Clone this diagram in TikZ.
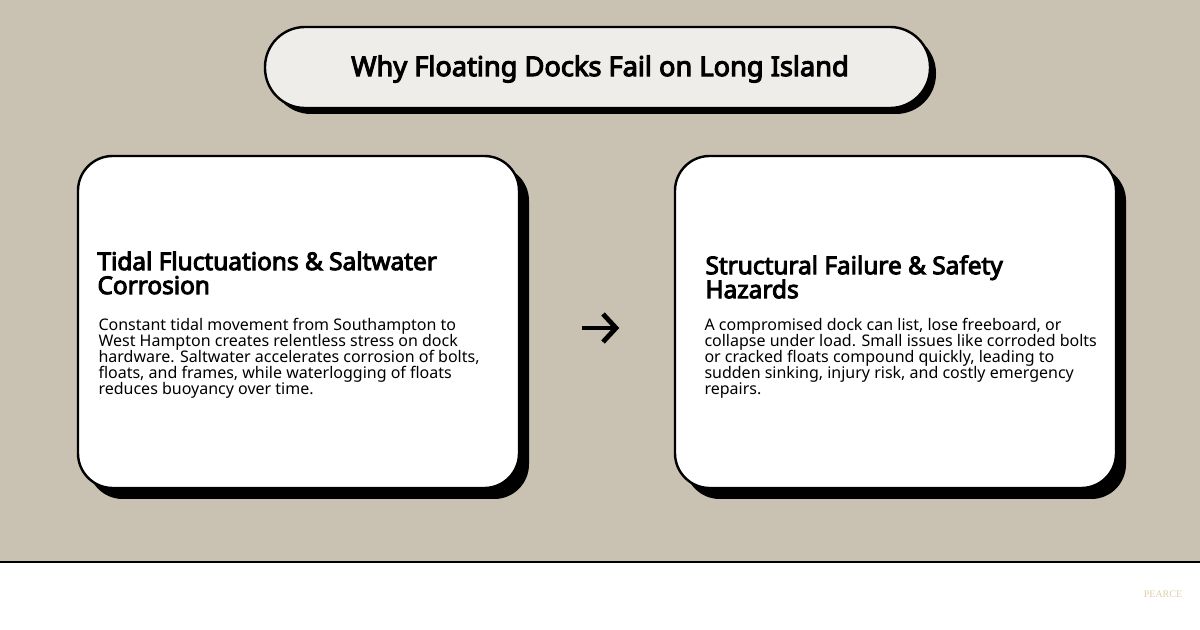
\documentclass[tikz,border=0pt]{standalone}
\usepackage{fontspec}
\setmainfont{Noto Sans}[BoldFont={Noto Sans}, BoldFeatures={FakeBold=4}]
\newfontfamily\markfont{Liberation Serif}
\newcommand\tightlines{\setlength{\lineskiplimit}{-20pt}}
\definecolor{sand}{RGB}{201,194,178}
\definecolor{pill}{RGB}{238,237,233}
\definecolor{gold}{RGB}{222,206,170}
\tikzset{every picture/.style={line width=0.75pt}}
\tikzset{
  card/.style={draw=black, line width=1.8pt, fill=white, rounded corners=26pt},
  shade/.style={fill=black, rounded corners=26pt},
  head/.style={anchor=north west, inner sep=0pt, align=left, font=\bfseries\fontsize{18.3}{18}\selectfont\tightlines},
  body/.style={anchor=north west, inner sep=0pt, align=left, font=\fontsize{12}{12}\selectfont\tightlines}
}
\begin{document}
\begin{tikzpicture}[x=0.75pt,y=0.75pt,yscale=-1,xscale=1]
\useasboundingbox (0,0) rectangle (1200,630);
% background
\fill[sand] (0,0) rectangle (1200,562);
\draw[line width=1.5pt] (0,562) -- (1200,562);

% title
\fill[rounded corners=30pt] (271,33) rectangle (936,114);
\draw[fill=pill, line width=1.8pt, rounded corners=30pt] (265,27) rectangle (930,108);
\node (title) at (600,69) {\bfseries\fontsize{20.4}{22}\selectfont Why Floating Docks Fail on Long Island};

% left card
\fill[shade] (88,166) rectangle (529,499);
\draw[card] (78,156) rectangle (519,488);
\node[head] (lhead) at (97,251) {Tidal Fluctuations \& Saltwater\\Corrosion};
\node[body] (lbody) at (98,318) {Constant tidal movement from Southampton to\\West Hampton creates relentless stress on dock\\hardware. Saltwater accelerates corrosion of bolts,\\floats, and frames, while waterlogging of floats\\reduces buoyancy over time.};

% right card
\fill[shade] (685,166) rectangle (1126,499);
\draw[card] (675,156) rectangle (1116,488);
\node[head] (rhead) at (705,255) {Structural Failure \& Safety\\Hazards};
\node[body] (rbody) at (704,318) {A compromised dock can list, lose freeboard, or\\collapse under load. Small issues like corroded bolts\\or cracked floats compound quickly, leading to\\sudden sinking, injury risk, and costly emergency\\repairs.};

% arrow
\coordinate (a1) at (582,328);
\coordinate (a2) at (616,328);
\draw[line width=3.6pt] (a1) -- (a2);
\draw[line width=3.6pt, line join=miter] (603,314) -- (a2) -- (603,342);

% mark
\node[text=gold, font=\markfont\fontsize{7.5}{8}\selectfont] (mark) at (1163,594) {PEARCE};
\end{tikzpicture}
\end{document}
